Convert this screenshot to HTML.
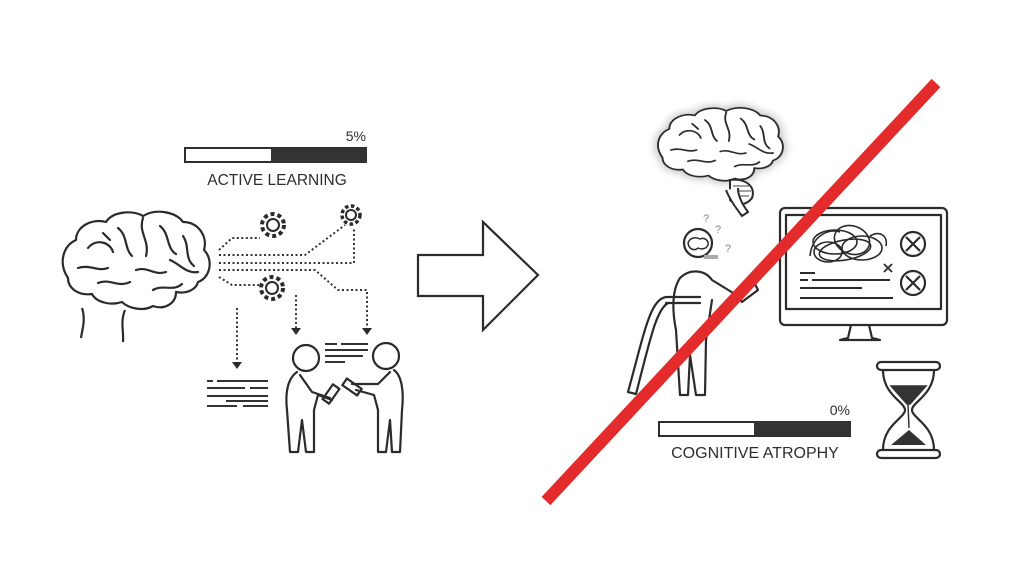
<!DOCTYPE html>
<html><head><meta charset="utf-8"><style>
html,body{margin:0;padding:0;background:#fff;}
svg{display:block;}
text{font-family:"Liberation Sans",sans-serif;fill:#2e2e2e;}
</style></head><body>
<svg width="1024" height="585" viewBox="0 0 1024 585" xmlns="http://www.w3.org/2000/svg">
<defs>
<filter id="sh" x="-30%" y="-30%" width="160%" height="160%"><feGaussianBlur stdDeviation="5"/></filter>
<g id="brain" fill="none" stroke="#2b2b2b" stroke-width="2.2" stroke-linecap="round" stroke-linejoin="round">
<path d="M10,70 C0,55 5,38 18,32 C18,18 35,10 48,14 C55,3 75,2 85,8 C98,0 118,4 125,14 C140,14 150,28 146,42 C156,52 152,70 140,74 C138,82 128,86 118,84 C118,96 106,102 95,98 C85,104 70,100 64,94 C52,98 38,94 34,86 C20,88 10,80 10,70 Z"/>
<path d="M30,40 C38,30 52,34 55,44 M60,20 C70,28 66,40 74,48 M85,10 C80,25 92,32 88,48 M102,18 C112,26 108,40 118,46 M125,28 C132,38 126,50 136,58 M20,60 C32,56 40,64 50,60 M40,75 C52,70 60,80 72,74 M78,62 C90,58 96,68 108,64 M95,82 C105,76 115,84 124,76 M45,25 L52,32 M112,52 C122,56 128,66 140,64"/>
</g>
<path id="bout" d="M10,70 C0,55 5,38 18,32 C18,18 35,10 48,14 C55,3 75,2 85,8 C98,0 118,4 125,14 C140,14 150,28 146,42 C156,52 152,70 140,74 C138,82 128,86 118,84 C118,96 106,102 95,98 C85,104 70,100 64,94 C52,98 38,94 34,86 C20,88 10,80 10,70 Z"/>
</defs>

<!-- LEFT: progress bar -->
<text x="366" y="141" font-size="14" text-anchor="end">5%</text>
<rect x="185" y="148" width="181" height="14" fill="#fff" stroke="#2e2e2e" stroke-width="2"/>
<rect x="271" y="148" width="95" height="14" fill="#333"/>
<text x="277" y="185" font-size="15.5" text-anchor="middle">ACTIVE LEARNING</text>

<!-- left brain -->
<use href="#brain" transform="translate(58,208)"/>
<path d="M82,308 C86,320 82,330 81,338 M125,310 C120,322 124,332 123,342" fill="none" stroke="#2b2b2b" stroke-width="2.2"/>

<!-- gears -->
<g fill="none" stroke="#2b2b2b" stroke-width="2">
<circle cx="273" cy="225" r="6"/><circle cx="273" cy="225" r="11" stroke-dasharray="4 3" stroke-width="4"/>
<circle cx="351" cy="215" r="5"/><circle cx="351" cy="215" r="9" stroke-dasharray="3.5 2.5" stroke-width="3.5"/>
<circle cx="272" cy="288" r="6"/><circle cx="272" cy="288" r="11" stroke-dasharray="4 3" stroke-width="4"/>
</g>
<!-- dotted connectors -->
<g fill="none" stroke="#333" stroke-width="2" stroke-dasharray="2 2.5">
<path d="M219,250 L232,238 L260,238"/>
<path d="M219,255 L305,255 L345,225"/>
<path d="M219,263 L354,263 L354,228"/>
<path d="M219,270 L315,270 L338,290 L367,290 L367,328"/>
<path d="M219,277 L232,285 L259,285"/>
<path d="M296,295 L296,328"/>
<path d="M237,308 L237,362"/>
</g>
<g fill="#2b2b2b">
<path d="M232,362 L242,362 L237,369Z"/>
<path d="M291,328 L301,328 L296,335Z"/>
<path d="M362,328 L372,328 L367,335Z"/>
</g>
<!-- text lines -->
<g stroke="#333" stroke-width="2">
<path d="M207,381 h6 M217,381 h51 M207,388 h38 M250,388 h18 M207,396 h61 M226,401 h42 M207,406 h30 M243,406 h25"/>
<path d="M325,344 h12 M341,344 h27 M325,350 h43 M325,356 h38 M325,362 h20"/>
</g>
<!-- people -->
<g fill="none" stroke="#2b2b2b" stroke-width="2.2" stroke-linejoin="round" stroke-linecap="round">
<circle cx="306" cy="358" r="13"/>
<path d="M297,372 C288,378 285,392 287,410 L290,452 L298,452 L302,420 L306,452 L314,452 L314,410 L318,395 L332,400 M300,375 L312,392 L330,398"/>
<rect x="327" y="385" width="8" height="18" transform="rotate(35 331 394)"/>
<circle cx="386" cy="356" r="13"/>
<path d="M394,370 C402,376 404,392 402,410 L400,452 L392,452 L390,420 L386,452 L378,452 L378,410 L374,395 L356,390 M390,372 L378,384 L352,384"/>
<rect x="348" y="378" width="8" height="18" transform="rotate(-55 352 387)"/>
</g>

<!-- big arrow -->
<path d="M418,255 L483,255 L483,222 L538,275 L483,330 L483,296 L418,296 Z" fill="#fff" stroke="#2b2b2b" stroke-width="2.2" stroke-linejoin="miter"/>

<!-- RIGHT: brain with glow -->
<use href="#bout" transform="translate(654,105) scale(0.85,0.75)" fill="#999" stroke="#999" stroke-width="8" filter="url(#sh)" opacity="0.55"/>
<use href="#bout" transform="translate(654,105) scale(0.85,0.75)" fill="#fff"/>
<use href="#brain" transform="translate(654,105) scale(0.85,0.75)"/>
<path d="M730,180 C745,178 756,186 752,198 C746,206 736,206 730,200 Z" fill="#fff" stroke="#2b2b2b" stroke-width="2"/>
<path d="M733,186 h16 M733,191 h18 M734,196 h15" stroke="#444" stroke-width="1"/>
<path d="M726,190 C730,200 736,208 742,216 L748,212 C742,204 738,196 738,188" fill="#fff" stroke="#2b2b2b" stroke-width="2"/>

<!-- question marks -->
<text x="703" y="222" font-size="11" style="fill:#888">?</text>
<text x="715" y="233" font-size="11" style="fill:#888">?</text>
<text x="725" y="252" font-size="11" style="fill:#888">?</text>

<!-- person with walker -->
<g fill="none" stroke="#2b2b2b" stroke-width="2.2" stroke-linejoin="round" stroke-linecap="round">
<circle cx="698" cy="243" r="14"/>
<path d="M688,243 c2,-6 8,-6 12,-4 c4,-2 9,1 8,6 c-2,5 -8,4 -10,3 c-3,3 -9,2 -10,-5z" stroke-width="1.5"/>
<path d="M680,278 C690,268 705,270 712,280 L738,296 M680,278 C672,290 672,310 676,330 L680,395 L688,395 L690,355 L696,395 L705,395 L706,340 L712,300"/>
<path d="M666,297 L700,297 M666,303 L700,303 M666,297 C650,300 645,330 628,392 L636,394 C650,340 656,310 668,303"/>
<path d="M736,292 L754,282 L758,290 L742,302 Z"/>
</g>
<rect x="704" y="255" width="14" height="4" fill="#aaa"/>

<!-- monitor -->
<g fill="none" stroke="#2b2b2b" stroke-width="2.2" stroke-linejoin="round">
<rect x="780" y="208" width="167" height="117" rx="5"/>
<rect x="786" y="215" width="155" height="94"/>
<path d="M851,325 L848,338 L840,340 L880,340 L872,338 L869,325"/>
<circle cx="913" cy="244" r="12"/><path d="M906,237 l14,14 M920,237 l-14,14"/>
<circle cx="913" cy="283" r="12"/><path d="M906,276 l14,14 M920,276 l-14,14"/>
<path d="M884,264 l8,8 M892,264 l-8,8" stroke-width="1.8"/>
<g stroke-width="1.6">
<ellipse cx="835" cy="242" rx="22" ry="12"/><ellipse cx="852" cy="240" rx="18" ry="14" transform="rotate(20 852 240)"/>
<ellipse cx="845" cy="250" rx="26" ry="10" transform="rotate(-10 845 250)"/><ellipse cx="862" cy="248" rx="20" ry="12"/>
<ellipse cx="828" cy="252" rx="14" ry="10"/><path d="M810,256 C812,235 830,228 840,232 M870,236 C880,230 888,236 886,246"/>
</g>
<path d="M800,273 h15 M800,280 h8 M812,280 h78 M800,288 h62 M800,298 h93" stroke-width="2"/>
</g>

<!-- hourglass -->
<g fill="none" stroke="#2b2b2b" stroke-width="2.2" stroke-linejoin="round">
<rect x="877" y="362" width="63" height="8" rx="4"/>
<rect x="877" y="450" width="63" height="8" rx="4"/>
<path d="M883,370 C883,395 905,402 905,410 C905,418 883,425 883,450 M934,370 C934,395 912,402 912,410 C912,418 934,425 934,450"/>
</g>
<path d="M891,386 L926,386 L910,404 L907,404 Z M908,404 L909,428 Z" fill="#333" stroke="#333" stroke-width="1.5"/>
<path d="M909,430 L926,445 L891,445 Z" fill="#333"/>

<!-- bottom bar -->
<text x="850" y="415" font-size="14" text-anchor="end">0%</text>
<rect x="659" y="422" width="191" height="14" fill="#fff" stroke="#2e2e2e" stroke-width="2"/>
<rect x="754" y="422" width="96" height="14" fill="#333"/>
<text x="755" y="458" font-size="16" text-anchor="middle">COGNITIVE ATROPHY</text>

<!-- red strike -->
<line x1="546" y1="501" x2="936" y2="83" stroke="#e32b2b" stroke-width="12"/>
</svg>
</body></html>
